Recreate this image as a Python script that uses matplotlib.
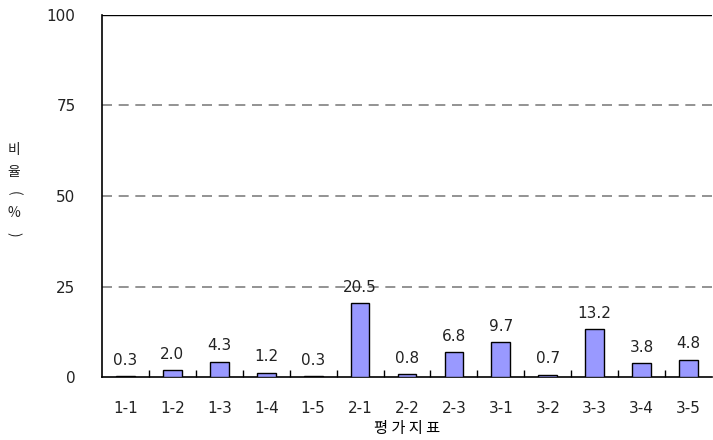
import numpy as np
import matplotlib.pyplot as plt

# 평가지표별 비율
지표 = ['1-1', '1-2', '1-3', '1-4', '1-5', '2-1', '2-2', '2-3',
        '3-1', '3-2', '3-3', '3-4', '3-5']
비율 = [0.3, 2.0, 4.3, 1.2, 0.3, 20.5, 0.8, 6.8, 9.7, 0.7, 13.2, 3.8, 4.8]
y_ticks = [0, 25, 50, 75, 100]

plt.rcParams['font.family'] = ['DejaVu Sans', 'Noto Sans CJK KR']
plt.rcParams['font.size'] = 11

fig = plt.figure(figsize=(7.13, 4.4), dpi=100)
ax = fig.add_axes([0.143, 0.143, 0.8556, 0.823])

x = np.arange(len(지표))
bars = ax.bar(x, 비율, width=0.4, color='#9999ff', edgecolor='black',
              linewidth=1, zorder=3)

for xi, v in zip(x, 비율):
    ax.annotate(f'{v:.1f}', (xi, v), xytext=(0, 6), textcoords='offset points',
                ha='center', va='bottom', fontsize=11, color='#222222', zorder=4)

ax.set_xlim(-0.5, len(지표) - 0.5)
ax.set_ylim(0, 100)

# 격자선
for t in y_ticks[1:-1]:
    ax.axhline(t, color='#808080', linestyle=(0, (6, 4)), linewidth=1.2, zorder=1)
ax.axhline(100, color='black', linewidth=1, zorder=1)

ax.set_yticks(y_ticks)
ax.tick_params(axis='y', length=0, pad=19, labelsize=11, labelcolor='#222222')

ax.set_xticks(x)
ax.set_xticklabels(지표)
ax.set_xticks(np.arange(0.5, len(지표) - 0.5), minor=True)
ax.tick_params(axis='x', which='major', length=0, pad=17, labelsize=11,
               labelcolor='#222222')
ax.tick_params(axis='x', which='minor', direction='in', length=5, width=1)

for s in ['top', 'right']:
    ax.spines[s].set_visible(False)
ax.spines['left'].set_linewidth(1.2)
ax.spines['bottom'].set_linewidth(1.2)

ax.set_xlabel('평 가 지 표', family=['Noto Sans CJK KR', 'DejaVu Sans'],
              fontsize=11, labelpad=3)

# 세로 축 제목 (한 글자씩 세로로)
kr = ['Noto Sans CJK KR', 'DejaVu Sans']
y_chars = [('비', 0), ('율', 0), ('(', -90), ('%', 0), (')', -90)]
y_pos = [150, 172, 193, 213, 234]
for (ch, rot), yp in zip(y_chars, y_pos):
    fig.text(14 / 713, 1 - yp / 440, ch, family=kr, fontsize=10, rotation=rot,
             ha='center', va='center', color='#222222')

fig.savefig('out.png', dpi=100)
